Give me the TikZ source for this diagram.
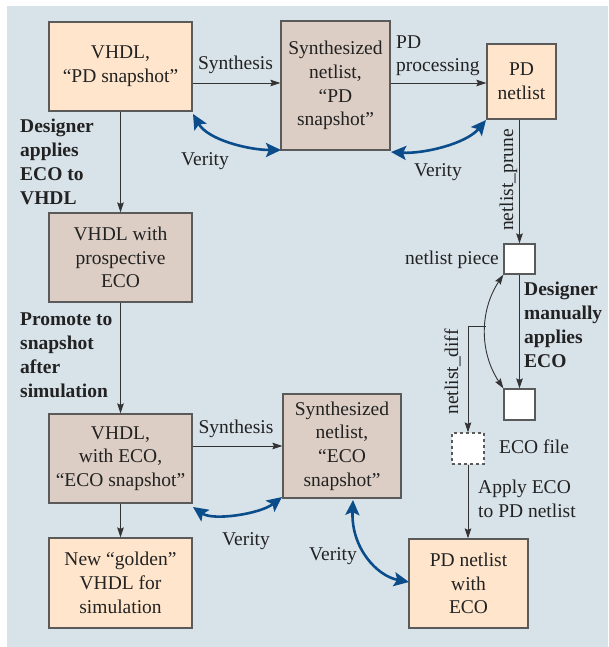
\documentclass[tikz,border=0pt]{standalone}
\usepackage{fontspec}
\setmainfont{Liberation Serif}
\usetikzlibrary{arrows.meta}
\definecolor{bgc}{HTML}{D8E2E9}
\definecolor{orangefill}{HTML}{FEE5CB}
\definecolor{tanfill}{HTML}{DCCEC4}
\definecolor{boxline}{HTML}{5A5A5A}
\definecolor{arrline}{HTML}{333333}
\definecolor{verblue}{HTML}{0B4C8B}
\definecolor{txt}{HTML}{222222}
\tikzset{
  box/.style={draw=boxline, line width=1.2pt, inner sep=0pt, align=center, text=txt},
  orangebox/.style={box, fill=orangefill},
  tanbox/.style={box, fill=tanfill},
  smallbox/.style={draw=boxline, line width=1.2pt, fill=white, inner sep=0pt, minimum width=31pt, minimum height=30pt},
  arr/.style={draw=arrline, line width=0.9pt, -{Stealth[length=10pt,width=6.5pt,inset=1.5pt]}},
  arrtwo/.style={draw=arrline, line width=0.9pt, {Stealth[length=10pt,width=6.5pt,inset=1.5pt]}-{Stealth[length=10pt,width=6.5pt,inset=1.5pt]}},
  verity/.style={draw=verblue, line width=2.6pt, {Stealth[length=15pt,width=14pt,inset=3pt]}-{Stealth[length=15pt,width=14pt,inset=3pt]}},
  lbl/.style={inner sep=0pt, text=txt, anchor=base},
  lbll/.style={inner sep=0pt, text=txt, anchor=base west, align=left},
  bold/.style={inner sep=0pt, text=txt, anchor=base west, align=left, font=\fontsize{19.5}{23.8}\selectfont\bfseries},
}
\begin{document}
\begin{tikzpicture}[x=1pt,y=-1pt, font=\fontsize{19.5}{23.7}\selectfont]
\useasboundingbox (0,0) rectangle (608,647);
\fill[bgc] (7,6) rectangle (608,647);

% boxes
\node[orangebox, minimum width=143pt, minimum height=89pt] (b1) at (120.5,66.5) {VHDL,\\“PD snapshot”};
\node[tanbox, minimum width=109pt, minimum height=129pt] (b2) at (335.5,85.5) {Synthesized\\netlist,\\“PD\\snapshot”};
\node[orangebox, minimum width=69pt, minimum height=75pt] (b3) at (521.5,81.5) {PD\\netlist};
\node[tanbox, minimum width=143pt, minimum height=89pt] (b4) at (120.5,257.5) {VHDL with\\prospective\\ECO};
\node[tanbox, minimum width=143pt, minimum height=89pt] (b5) at (120.5,458.5) {VHDL,\\with ECO,\\“ECO snapshot”};
\node[orangebox, minimum width=143pt, minimum height=90pt] (b6) at (120.5,583) {New “golden”\\VHDL for\\simulation};
\node[tanbox, minimum width=118pt, minimum height=104pt] (b7) at (342,446) {Synthesized\\netlist,\\“ECO\\snapshot”};
\node[orangebox, minimum width=119pt, minimum height=89pt] (b8) at (468.5,583.5) {PD netlist\\with\\ECO};
\node[smallbox] (s1) at (519.5,259) {};
\node[smallbox, minimum height=31pt] (s2) at (519.5,404.5) {};
\node[smallbox, dashed, minimum width=32pt, minimum height=31pt] (s3) at (468,448.5) {};

% black connectors
\draw[arr] ([yshift=-16.5pt]b1.east) -- ([yshift=2.5pt]b2.west);
\draw[arr] ([yshift=2.5pt]b2.east) -- ([yshift=-1.5pt]b3.west);
\draw[arr] (s1.north |- b3.south) -- (s1.north);
\draw[arr] (s1.south) -- (s2.north);
\draw[arrtwo] (s1.south west) .. controls +(-24,36) and +(-24,-36) .. coordinate[pos=0.46] (cm) (s2.north west);
\draw[arr] (cm) -| (s3.north);
\draw[arr] (s3.south) -- (s3.south |- b8.north);
\draw[arr] (b1.south) -- (b4.north);
\draw[arr] (b4.south) -- (b5.north);
\draw[arr] (b5.south) -- (b6.north);
\draw[arr] (b5.east |- b7.west) -- (b7.west);

% Verity arrows
\draw[verity] (193,114) .. controls +(15,26) and +(-32,0) .. (281,150);
\draw[verity] (391,152) .. controls +(32,2) and +(-20,24) .. (486,120);
\draw[verity] (193,507) .. controls +(20,14) and +(-22,17) .. (282,497);
\draw[verity] (353,500) .. controls +(-2,48) and +(-32,-6) .. (409,582);

% labels
\node[lbl] (l1) at (235.5,70) {Synthesis};
\node[lbl] (l2) at (236,433) {Synthesis};
\node[lbll] (l3) at (396,72) {PD\\processing};
\node[lbl] (v1) at (205,166) {Verity};
\node[lbl] (v2) at (438,176) {Verity};
\node[lbl] (v3) at (246,545) {Verity};
\node[lbl] (v4) at (333,560) {Verity};
\node[bold] (d1) at (20,204) {Designer\\applies\\ECO to\\VHDL};
\node[bold] (d2) at (20,397) {Promote to\\snapshot\\after\\simulation};
\node[bold] (d3) at (524,367) {Designer\\manually\\applies\\ECO};
\node[inner sep=0pt, text=txt, anchor=base east] (np) at (499,264) {netlist piece};
\node[lbll] (ef) at (499,453) {ECO file};
\node[lbll] (ap) at (478,517) {Apply ECO\\to PD netlist};
\node[lbl, rotate=90] (pr) at (513,180) {netlist\_prune};
\node[lbl, rotate=90] (nd) at (458,372) {netlist\_diff};
\end{tikzpicture}
\end{document}
